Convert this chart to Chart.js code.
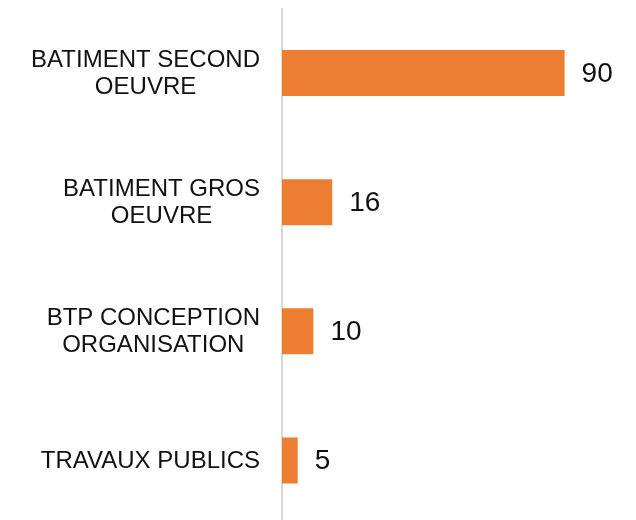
<!DOCTYPE html>
<html>
<head>
<meta charset="utf-8">
<script src="https://cdn.jsdelivr.net/npm/chart.js@4/dist/chart.umd.min.js"></script>
<style>
  html, body { margin: 0; padding: 0; background: #fff; overflow: hidden; }
  #wrap { width: 636px; height: 525px; }
</style>
</head>
<body>
<div id="wrap"><canvas id="chart" width="636" height="525"></canvas></div>
<script>
// ===== Data =====
const categories = [
    ['BATIMENT SECOND', 'OEUVRE'],
    ['BATIMENT GROS', 'OEUVRE'],
    ['BTP CONCEPTION', 'ORGANISATION'],
    ['TRAVAUX PUBLICS']
];
const values = [90, 16, 10, 5];

const BAR_COLOR = '#ED7D31';
const AXIS_COLOR = '#D9D9D9';
const TEXT_COLOR = '#111111';

// ===== Label plugins =====
const categoryLabels = {
    id: 'categoryLabels',
    afterDraw(chart) {
        const ctx = chart.ctx;
        const y = chart.scales.y;
        const rightEdge = 260;
        const lineH = 27;
        ctx.save();
        ctx.font = '24px Arial, "Liberation Sans", sans-serif';
        ctx.fillStyle = TEXT_COLOR;
        ctx.textBaseline = 'middle';
        ctx.textAlign = 'center';
        categories.forEach((lines, i) => {
            const cy = y.getPixelForValue(i) + 1;
            const w = Math.max(...lines.map(l => ctx.measureText(l).width));
            const cx = rightEdge - w / 2;
            const top = cy - (lines.length - 1) * lineH / 2;
            lines.forEach((l, j) => ctx.fillText(l, cx, top + j * lineH));
        });
        ctx.restore();
    }
};

const valueLabels = {
    id: 'valueLabels',
    afterDatasetsDraw(chart) {
        const ctx = chart.ctx;
        const meta = chart.getDatasetMeta(0);
        ctx.save();
        ctx.font = '28px Arial, "Liberation Sans", sans-serif';
        ctx.fillStyle = TEXT_COLOR;
        ctx.textBaseline = 'middle';
        ctx.textAlign = 'left';
        meta.data.forEach((bar, i) => {
            ctx.fillText(String(values[i]), bar.x + 17, bar.y + 1);
        });
        ctx.restore();
    }
};

// ===== Chart =====
new Chart(document.getElementById('chart'), {
    type: 'bar',
    data: {
        labels: categories.map(c => c.join(' ')),
        datasets: [{
            data: values,
            backgroundColor: BAR_COLOR,
            borderWidth: 0,
            categoryPercentage: 1,
            barPercentage: 0.356
        }]
    },
    options: {
        indexAxis: 'y',
        responsive: false,
        devicePixelRatio: 1,
        animation: false,
        layout: { padding: { top: 8.5, right: 40, bottom: 0, left: 0 } },
        plugins: { legend: { display: false }, tooltip: { enabled: false } },
        scales: {
            x: {
                display: false,
                min: 0,
                max: 100
            },
            y: {
                ticks: { display: false },
                grid: { display: false },
                border: { display: true, color: AXIS_COLOR, width: 2 },
                afterFit(scale) { scale.width = 282; }
            }
        }
    },
    plugins: [categoryLabels, valueLabels]
});
</script>
</body>
</html>
